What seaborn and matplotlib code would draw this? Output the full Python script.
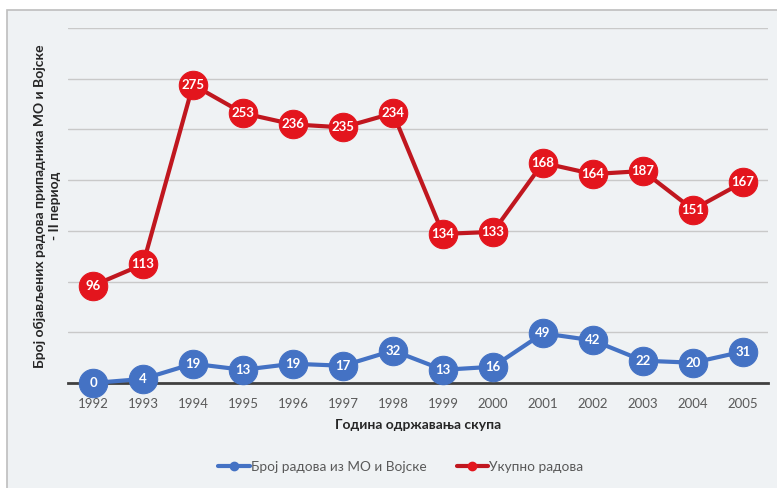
import numpy as np
import pandas as pd
import matplotlib
matplotlib.use("Agg")
import matplotlib.pyplot as plt
import seaborn as sns
from matplotlib.patches import Rectangle
from matplotlib.lines import Line2D

years = ["1992", "1993", "1994", "1995", "1996", "1997", "1998",
         "1999", "2000", "2001", "2002", "2003", "2004", "2005"]
mo_vojska = [0, 4, 19, 13, 19, 17, 32, 13, 16, 49, 42, 22, 20, 31]
ukupno = [96, 113, 275, 253, 236, 235, 234, 134, 133, 168, 164, 187, 151, 167]

name_blue = "Број радова из МО и Војске"
name_red = "Укупно радова"
y_label = "Број објављених радова припадника МО и Војске\n- II период"
x_label = "Година одржавања скупа"

# stacked line chart: red series is stacked on top of blue series
stacked_red = list(np.add(mo_vojska, ukupno))

sns.set_theme(style="white")
plt.rcParams['font.family'] = ['Lato', 'DejaVu Sans']

W, H = 777, 488
fig = plt.figure(figsize=(W / 100, H / 100), dpi=100)
fig.patch.set_facecolor("white")
bg = "#EFF2F4"
fig.patches.append(Rectangle((7 / W, -0.01), 1.2, (488 - 10) / H + 0.01,
                             transform=fig.transFigure, facecolor=bg,
                             edgecolor="#BEBEBE", linewidth=1.2, zorder=-10))

ax = fig.add_axes([68 / W, (H - 383) / H, 700 / W, (383 - 28) / H])
ax.set_facecolor("none")

df = pd.DataFrame({"year": years, "blue": mo_vojska, "red": stacked_red})
blue_c = "#4472C4"
red_line = "#C0171F"
red_mark = "#E3151D"

sns.lineplot(data=df, x="year", y="blue", ax=ax, color=blue_c, linewidth=3.0,
             marker="o", markersize=20.5, markerfacecolor=blue_c,
             markeredgecolor=blue_c, zorder=3, sort=False, clip_on=False)
sns.lineplot(data=df, x="year", y="red", ax=ax, color=red_line, linewidth=3.0,
             marker="o", markersize=20.5, markerfacecolor=red_mark,
             markeredgecolor=red_mark, zorder=3, sort=False, clip_on=False)

for i, (b, r, lab) in enumerate(zip(mo_vojska, stacked_red, ukupno)):
    ax.text(i, b, str(b), color="white", ha="center", va="center",
            fontsize=9.5, fontweight="bold", zorder=5)
    ax.text(i, r, str(lab), color="white", ha="center", va="center",
            fontsize=9.5, fontweight="bold", zorder=5)

ax.set_xlim(-0.5, len(years) - 0.5)
ax.set_ylim(0, 350)
ax.set_yticks(np.arange(0, 351, 50))
ax.set_yticklabels([])
ax.tick_params(axis="y", length=0)
ax.grid(axis="y", color="#C9C9C9", linewidth=1.0, zorder=0)
ax.set_axisbelow(True)
for s in ["top", "right", "left"]:
    ax.spines[s].set_visible(False)
ax.spines["bottom"].set_color("#404040")
ax.spines["bottom"].set_linewidth(2.0)
ax.spines["bottom"].set_zorder(2)
ax.tick_params(axis="x", length=0, pad=11, labelsize=9.5, labelcolor="#595959")

ax.set_xlabel(x_label, fontsize=10, fontweight="bold", color="#262626", labelpad=6)
ax.set_ylabel("")
fig.text(47 / W, 1 - 206 / H, y_label, rotation=90, ha="center", va="center",
         fontsize=10, fontweight="bold", color="#262626", linespacing=1.3)

handles = [Line2D([0], [0], color=blue_c, lw=3, marker="o", markersize=6),
           Line2D([0], [0], color=red_line, lw=3, marker="o", markersize=6,
                  markerfacecolor=red_mark, markeredgecolor=red_mark)]
leg = fig.legend(handles, [name_blue, name_red], loc="center",
                 bbox_to_anchor=(401 / W, 1 - 467 / H), ncol=2, frameon=False,
                 fontsize=9.8, handlelength=2.3, handletextpad=0.1,
                 columnspacing=2.2)
for t in leg.get_texts():
    t.set_color("#595959")

fig.savefig("out.png", dpi=100, facecolor=fig.get_facecolor())
